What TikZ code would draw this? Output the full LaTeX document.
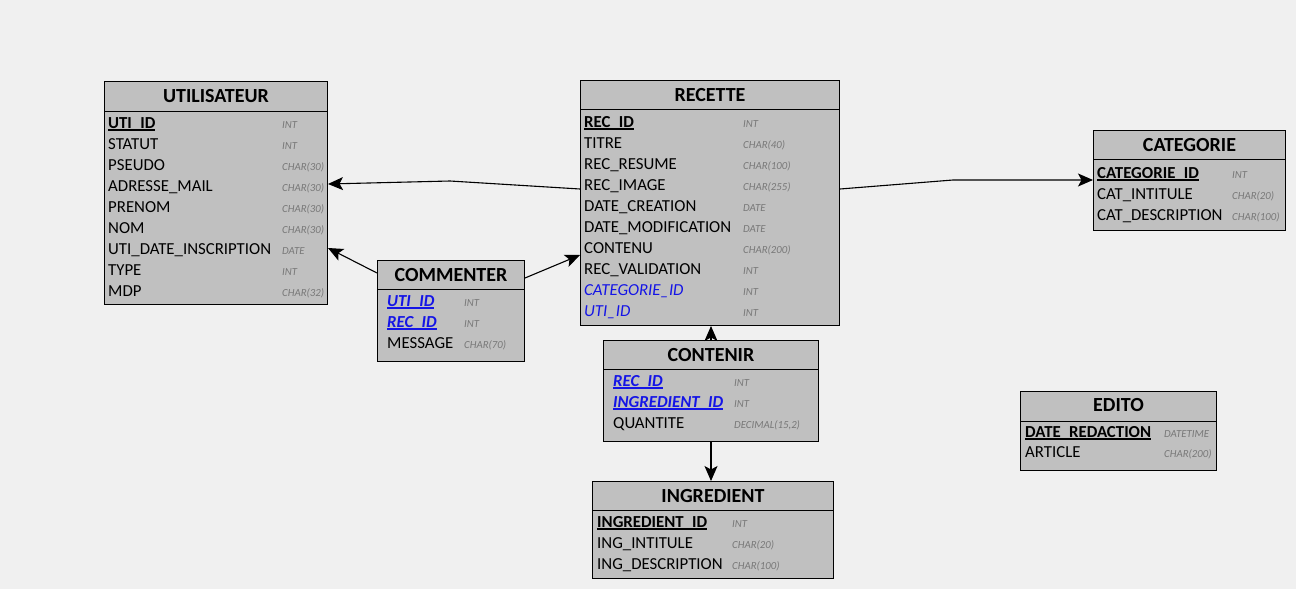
\documentclass[tikz,border=0pt]{standalone}
\usepackage{fontspec}
\setmainfont{Carlito}
\usetikzlibrary{arrows.meta}
\definecolor{bggray}{RGB}{240,240,240}
\definecolor{tabgray}{RGB}{192,192,192}
\definecolor{typegray}{RGB}{120,120,120}
\definecolor{fkblue}{RGB}{20,20,230}
\newcommand{\keyul}[1]{\leavevmode\setbox0=\hbox{#1}\rlap{\rule[-2.6pt]{\wd0}{1.3pt}}\box0}
\tikzset{
  tab/.style={draw=black, fill=tabgray, line width=1pt, inner sep=0pt, anchor=north west},
  tabtitle/.style={font=\fontsize{20}{20}\selectfont\bfseries, anchor=base, inner sep=0pt},
  sep/.style={line width=1pt},
  field/.style={font=\fontsize{16.8}{17}\selectfont, anchor=base west, inner sep=0pt},
  pk/.style={field, font=\fontsize{16.8}{17}\selectfont\bfseries},
  fkey/.style={field, text=fkblue, font=\fontsize{16.8}{17}\selectfont\bfseries\itshape},
  fk/.style={field, text=fkblue, font=\fontsize{16.8}{17}\selectfont\itshape},
  ty/.style={font=\fontsize{10.8}{11}\selectfont\itshape, text=typegray, anchor=base west, inner sep=0pt},
  rel/.style={-{Stealth[length=15pt,width=13pt,inset=3.5pt]}, line width=1.1pt}
}
\begin{document}
\begin{tikzpicture}[x=1pt,y=-1pt]
  \useasboundingbox (0,0) rectangle (1296,589);
  \fill[bggray] (0,0) rectangle (1296,589);
  % utilisateur
  \node[tab, minimum width=223, minimum height=223] (uti) at (104,81) {};
  \node[tabtitle] at (uti.north |- 0,102) {UTILISATEUR};
  \draw[sep] (uti.west |- 0,111) -- (uti.east |- 0,111);
  \node[pk] at (108,128) {\keyul{UTI\_ID}};
  \node[ty] at (282,128) {INT};
  \foreach \f/\t [count=\i] in {STATUT/INT, PSEUDO/CHAR(30), ADRESSE\_MAIL/CHAR(30), PRENOM/CHAR(30), NOM/CHAR(30), UTI\_DATE\_INSCRIPTION/DATE, TYPE/INT, MDP/CHAR(32)} {
    \node[field] at (108,128+21*\i) {\f};
    \node[ty] at (282,128+21*\i) {\t};
  }
  % recette
  \node[tab, minimum width=259, minimum height=245] (rec) at (580,80) {};
  \node[tabtitle] at (rec.north |- 0,101) {RECETTE};
  \draw[sep] (rec.west |- 0,109) -- (rec.east |- 0,109);
  \node[pk] at (584,127) {\keyul{REC\_ID}};
  \node[ty] at (743,127) {INT};
  \foreach \f/\t [count=\i] in {TITRE/CHAR(40), REC\_RESUME/CHAR(100), REC\_IMAGE/CHAR(255), DATE\_CREATION/DATE, DATE\_MODIFICATION/DATE, CONTENU/CHAR(200), REC\_VALIDATION/INT} {
    \node[field] at (584,127+21*\i) {\f};
    \node[ty] at (743,127+21*\i) {\t};
  }
  \node[fk] at (584,295) {CATEGORIE\_ID};
  \node[ty] at (743,295) {INT};
  \node[fk] at (584,316) {UTI\_ID};
  \node[ty] at (743,316) {INT};
  % categorie
  \node[tab, minimum width=192, minimum height=100] (cat) at (1093,130) {};
  \node[tabtitle] at (cat.north |- 0,151) {CATEGORIE};
  \draw[sep] (cat.west |- 0,159) -- (cat.east |- 0,159);
  \node[pk] at (1097,178) {\keyul{CATEGORIE\_ID}};
  \node[ty] at (1232,178) {INT};
  \foreach \f/\t [count=\i] in {CAT\_INTITULE/CHAR(20), CAT\_DESCRIPTION/CHAR(100)} {
    \node[field] at (1097,178+21*\i) {\f};
    \node[ty] at (1232,178+21*\i) {\t};
  }
  % commenter
  \node[tab, minimum width=147, minimum height=101] (com) at (377,260) {};
  \node[tabtitle] at (com.north |- 0,281) {COMMENTER};
  \draw[sep] (com.west |- 0,289) -- (com.east |- 0,289);
  \node[fkey] at (387,306) {\keyul{UTI\_ID}};
  \node[ty] at (464,306) {INT};
  \node[fkey] at (387,327) {\keyul{REC\_ID}};
  \node[ty] at (464,327) {INT};
  \node[field] at (387,348) {MESSAGE};
  \node[ty] at (464,348) {CHAR(70)};
  % contenir
  \node[tab, minimum width=215, minimum height=101] (con) at (603,340) {};
  \node[tabtitle] at (con.north |- 0,361) {CONTENIR};
  \draw[sep] (con.west |- 0,369) -- (con.east |- 0,369);
  \node[fkey] at (613,386) {\keyul{REC\_ID}};
  \node[ty] at (734,386) {INT};
  \node[fkey] at (613,407) {\keyul{INGREDIENT\_ID}};
  \node[ty] at (734,407) {INT};
  \node[field] at (613,428) {QUANTITE};
  \node[ty] at (734,428) {DECIMAL(15,2)};
  % ingredient
  \node[tab, minimum width=241, minimum height=97] (ing) at (592,481) {};
  \node[tabtitle] at (ing.north |- 0,502) {INGREDIENT};
  \draw[sep] (ing.west |- 0,510) -- (ing.east |- 0,510);
  \node[pk] at (597,527) {\keyul{INGREDIENT\_ID}};
  \node[ty] at (732,527) {INT};
  \foreach \f/\t [count=\i] in {ING\_INTITULE/CHAR(20), ING\_DESCRIPTION/CHAR(100)} {
    \node[field] at (597,527+21*\i) {\f};
    \node[ty] at (732,527+21*\i) {\t};
  }
  % edito
  \node[tab, minimum width=196, minimum height=79] (edi) at (1020,391) {};
  \node[tabtitle] at (edi.north |- 0,411) {EDITO};
  \draw[sep] (edi.west |- 0,421) -- (edi.east |- 0,421);
  \node[pk] at (1025,437) {\keyul{DATE\_REDACTION}};
  \node[ty] at (1164,437) {DATETIME};
  \node[field] at (1025,457) {ARTICLE};
  \node[ty] at (1164,457) {CHAR(200)};
  % liens
  \coordinate (bu) at (450,181);
  \coordinate (bc) at (953,180);
  \draw[rel] (rec.west |- 0,189) -- (bu) -- (uti.east |- 0,184);
  \draw[rel] (com.west |- 0,273) -- (uti.east |- 0,248);
  \draw[rel] (com.east |- 0,278) -- (rec.west |- 0,255);
  \draw[rel] (rec.east |- 0,189) -- (bc) -- (cat.west |- 0,180);
  \draw[rel] (con.north) -- (con.north |- rec.south);
  \draw[rel] (con.south) -- (con.south |- ing.north);
\end{tikzpicture}
\end{document}
